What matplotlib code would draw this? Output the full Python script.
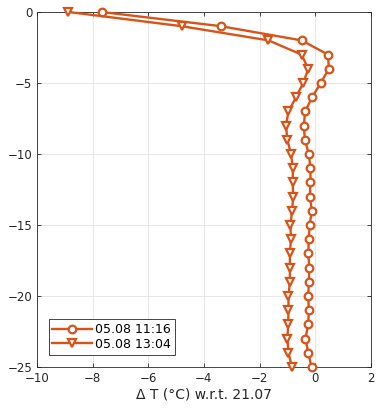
import numpy as np
import matplotlib
matplotlib.use("Agg")
import matplotlib.pyplot as plt

# depth levels (m)
depth = np.arange(0, -26, -1)

# temperature anomaly w.r.t. 21.07
dt_1116 = [-7.68, -3.39, -0.49, 0.46, 0.49, 0.20, -0.11, -0.36, -0.41, -0.37,
           -0.23, -0.17, -0.17, -0.19, -0.12, -0.20, -0.23, -0.25, -0.21, -0.23,
           -0.25, -0.23, -0.25, -0.35, -0.25, -0.13]
dt_1304 = [-8.87, -4.80, -1.68, -0.49, -0.25, -0.43, -0.69, -0.96, -1.05, -1.00,
           -0.87, -0.80, -0.81, -0.79, -0.83, -0.89, -0.87, -0.91, -0.91, -0.91,
           -0.96, -0.96, -0.97, -1.00, -0.96, -0.84]
labels = ["05.08 11:16", "05.08 13:04"]

color = "#D95319"
axcol = "#262626"

fig = plt.figure(figsize=(3.78, 4.09), dpi=100)
ax = fig.add_axes([0.098, 0.1027, 0.883, 0.868])

ax.plot(dt_1116, depth, "-o", color=color, lw=1.7, ms=5.5, mew=1.6,
        mfc="white", label=labels[0], clip_on=False, zorder=3)
ax.plot(dt_1304, depth, "-v", color=color, lw=1.7, ms=6, mew=1.6,
        mfc="white", label=labels[1], clip_on=False, zorder=3)

ax.set_xlim(-10, 2)
ax.set_ylim(-25, 0)
ax.set_xticks(np.arange(-10, 3, 2))
ax.set_yticks(np.arange(-25, 1, 5))
ax.grid(True, color="#e3e3e3", lw=0.6)
ax.set_axisbelow(True)

ax.tick_params(direction="in", top=True, right=True, length=3,
               labelsize=8.5, colors=axcol, width=0.6)
for s in ax.spines.values():
    s.set_color(axcol)
    s.set_linewidth(0.6)

ax.set_xlabel("\u0394 T (\u00b0C) w.r.t. 21.07", fontsize=10, color=axcol,
              labelpad=2)

leg = ax.legend(loc="lower left", bbox_to_anchor=(0.035, 0.035), fontsize=9,
                fancybox=False, edgecolor=axcol, framealpha=1,
                handlelength=3.2, borderpad=0.3, labelspacing=0.15,
                handletextpad=0.2, borderaxespad=0)
leg.get_frame().set_linewidth(0.6)
leg.set_zorder(5)

fig.savefig("out.png", dpi=100)
